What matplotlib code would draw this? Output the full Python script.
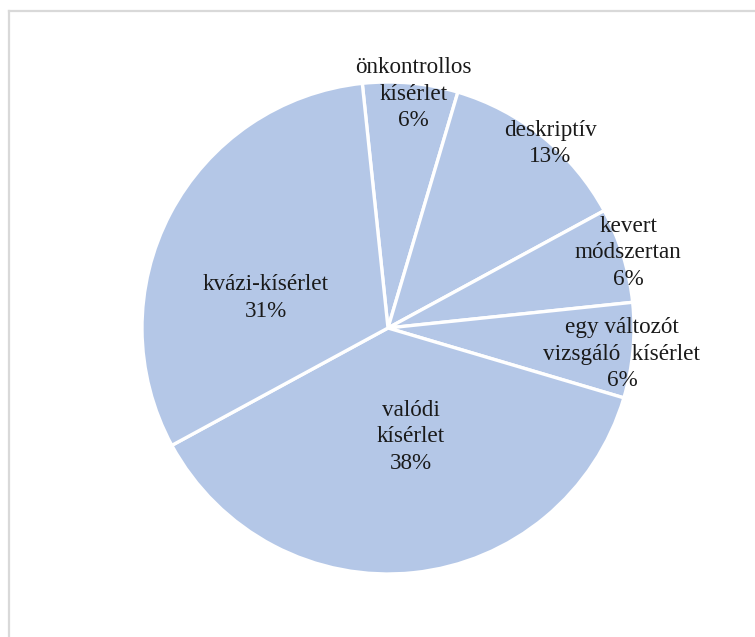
import matplotlib
matplotlib.use("Agg")
import matplotlib.pyplot as plt
from matplotlib.lines import Line2D

# Data (study counts, shown as percentages)
categories = ["önkontrollos\nkísérlet", "deskriptív", "kevert\nmódszertan",
              "egy változót\nvizsgáló  kísérlet", "valódi\nkísérlet", "kvázi-kísérlet"]
values = [1, 2, 1, 1, 6, 5]

# label positions (data units, pie radius = 1)
label_pos = [(0.105, 0.951), (0.659, 0.750), (0.976, 0.305),
             (0.951, -0.106), (0.093, -0.443), (-0.496, 0.122)]

plt.rcParams['font.family'] = ['Liberation Serif', 'DejaVu Serif']

W, H = 755, 637
fig = plt.figure(figsize=(W / 100, H / 100), dpi=100)
fig.patch.set_facecolor('white')

R = 246.0
cx, cy = 388, 637 - 328
half = 300
ax = fig.add_axes([(cx - half) / W, (cy - half) / H, 2 * half / W, 2 * half / H])
ax.set_aspect('equal')
ax.axis('off')

wedges, _ = ax.pie(values, startangle=96, counterclock=False, radius=1.0,
                   colors=['#B4C7E7'] * len(values),
                   wedgeprops=dict(edgecolor='white', linewidth=2.4))
ax.set_xlim(-half / R, half / R)
ax.set_ylim(-half / R, half / R)

total = sum(values)
for cat, v, (x, y) in zip(categories, values, label_pos):
    pct = int(100 * v / total + 0.5)
    ax.text(x, y, f"{cat}\n{pct}%", ha='center', va='center',
            fontsize=16.7, color='#1a1a1a', linespacing=1.36)

# outer frame (only top and left visible)
fig.add_artist(Line2D([8.5 / W, 8.5 / W], [0, 1 - 10.5 / H], transform=fig.transFigure,
                      color='#D9D9D9', linewidth=1.6))
fig.add_artist(Line2D([8.5 / W, 1], [1 - 10.5 / H, 1 - 10.5 / H], transform=fig.transFigure,
                      color='#D9D9D9', linewidth=1.6))

fig.savefig("out.png", dpi=100, facecolor='white')
